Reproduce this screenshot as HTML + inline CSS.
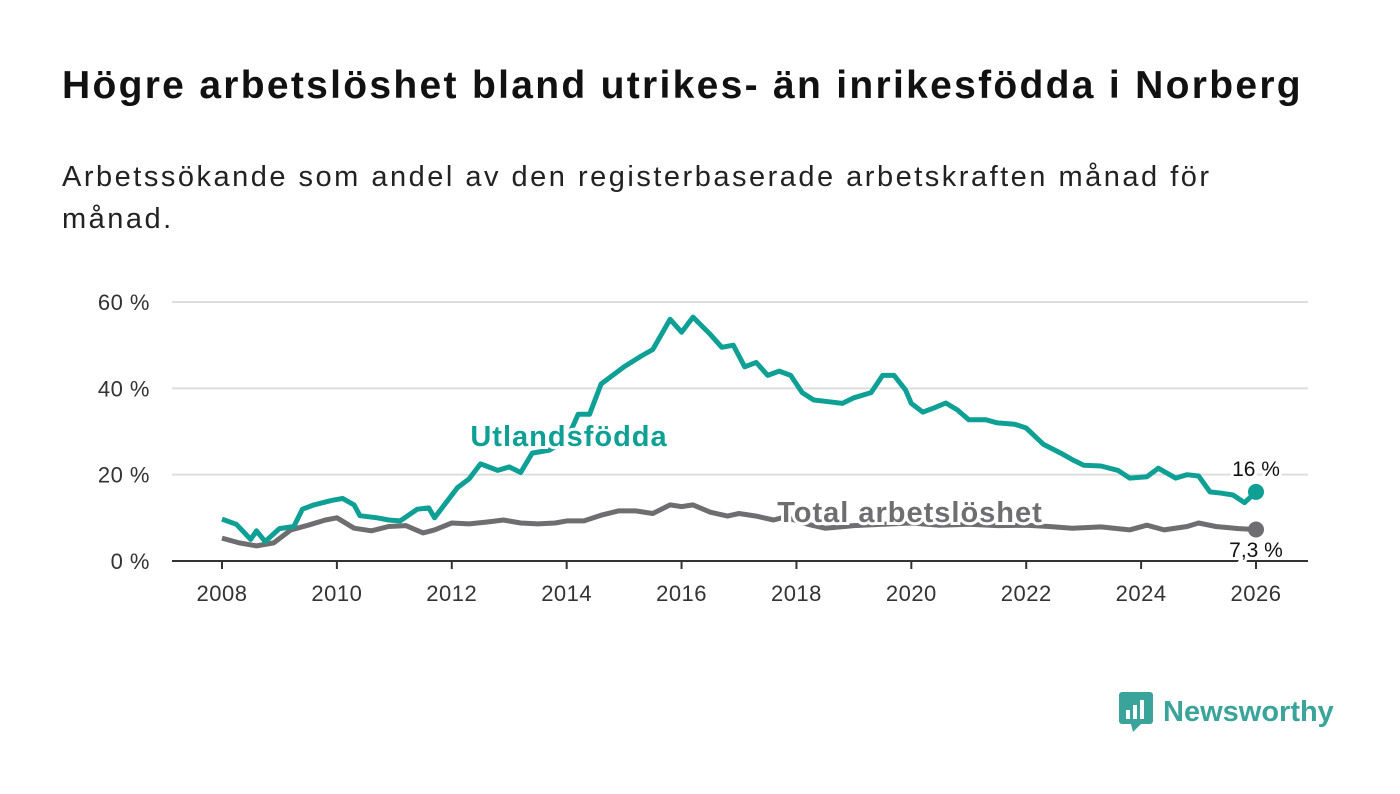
<!DOCTYPE html>
<html><head><meta charset="utf-8"><style>
body{margin:0;width:1400px;height:794px;background:#fff;font-family:"Liberation Sans","DejaVu Sans",sans-serif;overflow:hidden;position:relative}
h1{position:absolute;left:62px;top:64px;margin:0;font-size:39px;letter-spacing:2.3px;font-weight:bold;color:#111;white-space:nowrap}
.sub{position:absolute;left:62px;top:156px;font-size:29px;letter-spacing:2.5px;color:#222;line-height:42px;width:1200px}
svg{position:absolute;left:0;top:0}
</style></head><body>
<h1>Högre arbetslöshet bland utrikes- än inrikesfödda i Norberg</h1>
<div class="sub">Arbetssökande som andel av den registerbaserade arbetskraften månad för månad.</div>
<svg id="c" width="1400" height="794"></svg>
<script>
const yTicks=[0,20,40,60];
const yTickLabels=["0 %","20 %","40 %","60 %"];
const xTicks=[2008,2010,2012,2014,2016,2018,2020,2022,2024,2026];
const utlYears=[2008,2008.25,2008.5,2008.6,2008.75,2009,2009.25,2009.4,2009.6,2009.9,2010.1,2010.3,2010.4,2010.7,2010.9,2011.1,2011.4,2011.6,2011.7,2011.9,2012.1,2012.3,2012.5,2012.8,2013,2013.2,2013.4,2013.7,2014,2014.2,2014.4,2014.6,2014.8,2015,2015.3,2015.5,2015.8,2016,2016.2,2016.5,2016.7,2016.9,2017.1,2017.3,2017.5,2017.7,2017.9,2018.1,2018.3,2018.5,2018.8,2019,2019.3,2019.5,2019.7,2019.9,2020,2020.2,2020.4,2020.6,2020.8,2021,2021.3,2021.5,2021.8,2022,2022.3,2022.6,2022.8,2023,2023.3,2023.6,2023.8,2024.1,2024.3,2024.6,2024.8,2025,2025.2,2025.4,2025.6,2025.8,2026];
const utlValues=[9.7,8.5,5,7,4.5,7.5,8,12,13,14,14.5,13,10.5,10,9.5,9.3,12,12.3,10,13.5,17,19,22.5,21,21.8,20.5,25,25.7,28,34,34,41,43,45,47.5,49,56,53,56.5,52.5,49.5,50,45,46,43,44,43,39,37.3,37,36.5,37.8,39,43,43,39.6,36.5,34.5,35.5,36.6,35,32.7,32.7,32,31.7,30.8,27,25,23.5,22.2,22,21,19.2,19.5,21.5,19.2,20,19.7,16,15.7,15.3,13.5,16];
const totYears=[2008,2008.3,2008.6,2008.9,2009.2,2009.5,2009.8,2010,2010.3,2010.6,2010.9,2011.2,2011.5,2011.7,2012,2012.3,2012.6,2012.9,2013.2,2013.5,2013.8,2014,2014.3,2014.6,2014.9,2015.2,2015.5,2015.8,2016,2016.2,2016.5,2016.8,2017,2017.3,2017.6,2017.8,2018.2,2018.5,2019,2019.5,2020,2020.5,2021,2021.5,2022,2022.4,2022.8,2023.3,2023.8,2024.1,2024.4,2024.8,2025,2025.3,2025.7,2026];
const totValues=[5.3,4.2,3.5,4.2,7.2,8.3,9.5,10,7.6,7,8,8.2,6.5,7.2,8.8,8.6,9,9.5,8.8,8.6,8.8,9.3,9.3,10.6,11.6,11.6,11,13,12.6,13,11.3,10.4,11,10.4,9.5,10.2,8.5,7.6,8.2,8.5,8.8,8.3,8.5,8.2,8.3,8,7.6,7.9,7.2,8.3,7.2,8,8.8,8,7.5,7.3];
const X=y=>222+(y-2008)*(1256-222)/18;
const Y=v=>561-v*(561-302)/60;
const s=document.getElementById('c');const NS="http://www.w3.org/2000/svg";
function mk(t,a,txt){const e=document.createElementNS(NS,t);for(const k in a)e.setAttribute(k,a[k]);if(txt!==undefined)e.textContent=txt;s.appendChild(e);return e;}
yTicks.forEach((v,i)=>{
 if(v>0){const g=mk('line',{x1:172,x2:1308,y1:Y(v),y2:Y(v),stroke:'#ddd','stroke-width':2});
 
 }
 const t=mk('text',{x:150,y:Y(v)+8,'text-anchor':'end','font-size':22,'letter-spacing':0.5,fill:'#333'},yTickLabels[i]);
 
 
});
const ax=mk('line',{x1:172,x2:1308,y1:561,y2:561,stroke:'#333','stroke-width':2});


xTicks.forEach(yr=>{
 mk('line',{x1:X(yr),x2:X(yr),y1:561,y2:569,stroke:'#333','stroke-width':2});
 const t=mk('text',{x:X(yr),y:601,'text-anchor':'middle','font-size':22,'letter-spacing':0.5,fill:'#333'},yr);
 
 
});
function line(xs,vs,col,name){
 const d=xs.map((x,i)=>(i?'L':'M')+X(x).toFixed(1)+','+Y(vs[i]).toFixed(1)).join('');
 const p=mk('path',{d:d,fill:'none',stroke:col,'stroke-width':5,'stroke-linejoin':'round'});
 
 
 const c=mk('circle',{cx:X(xs[xs.length-1]),cy:Y(vs[vs.length-1]),r:8,fill:col});
 
 
}
line(totYears,totValues,'#6e6d70','total-line');
line(utlYears,utlValues,'#0fa095','utlandsfodda-line');
function lab(x,y,txt,col,size,w,ls,name){
 const t=mk('text',{x:x,y:y,'font-size':size,'font-weight':w,'letter-spacing':ls,fill:col,stroke:'#fff','stroke-width':6,'paint-order':'stroke','text-anchor':'middle'},txt);
 
 
}
lab(569,446,'Utlandsfödda','#0fa095',29,'bold',1,'utlandsfodda-label');
lab(910,522,'Total arbetslöshet','#6e6d70',29,'bold',1,'total-label');
lab(1256,476,'16 %','#111',21,'normal',0,'utl-end-value');
lab(1256,557,'7,3 %','#111',21,'normal',0,'total-end-value');
</script>
<div style="position:absolute;left:1119px;top:690px;display:flex;align-items:center">
 <svg width="36" height="44" style="position:static"><rect x="0" y="2" width="34" height="32" rx="3" fill="#3aa39a"/><polygon points="12,34 22,34 14,42" fill="#3aa39a"/><rect x="7" y="20" width="4" height="9" fill="#fff"/><rect x="14" y="15" width="4" height="14" fill="#fff"/><rect x="21" y="10" width="4" height="19" fill="#fff"/></svg>
 <span style="font-size:29px;color:#3aa39a;margin-left:8px;font-weight:bold">Newsworthy</span>
</div>
</body></html>
